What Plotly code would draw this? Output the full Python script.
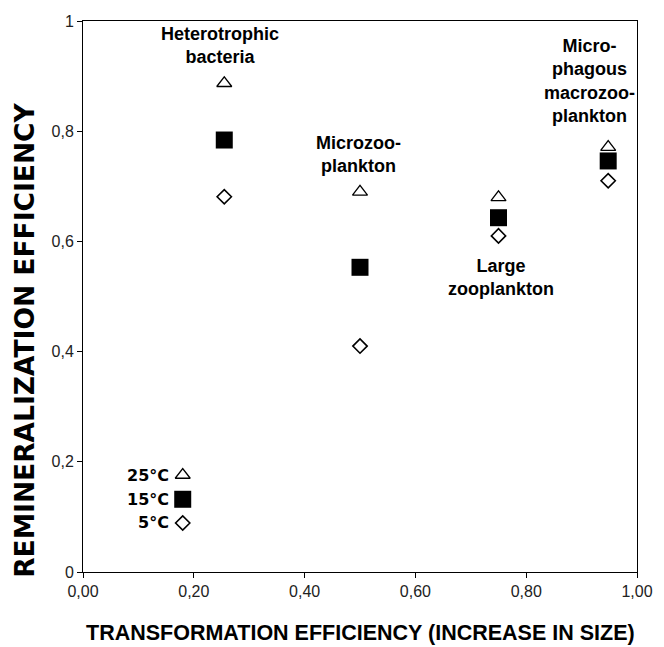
import plotly.graph_objects as go

# Data
groups = ["Heterotrophic<br>bacteria", "Microzoo-<br>plankton", "Large<br>zooplankton",
          "Micro-<br>phagous<br>macrozoo-<br>plankton"]
transformation = [0.255, 0.50, 0.75, 0.948]
remin_25C = [0.887, 0.690, 0.680, 0.771]
remin_15C = [0.784, 0.553, 0.643, 0.746]
remin_5C = [0.681, 0.410, 0.610, 0.710]

label_x = [0.247, 0.497, 0.755, 0.915]
label_y = [0.955, 0.757, 0.535, 0.891]

key_labels = ["25°C", "15°C", "5°C"]
key_x = [0.18, 0.18, 0.18]
key_y = [0.176, 0.132, 0.089]

FONT = "Liberation Sans Narrow, Arial Narrow, Liberation Sans, sans-serif"

fig = go.Figure()
tri = dict(symbol="triangle-up-open", size=13, color="black", line=dict(width=1.3, color="black"))
sq = dict(symbol="square", size=17, color="black", line=dict(width=0))
dia = dict(symbol="diamond-open", size=11, color="black", line=dict(width=1.6, color="black"))

fig.add_trace(go.Scatter(x=transformation, y=remin_25C, mode="markers", marker=tri, name="25°C"))
fig.add_trace(go.Scatter(x=transformation, y=remin_15C, mode="markers", marker=sq, name="15°C"))
fig.add_trace(go.Scatter(x=transformation, y=remin_5C, mode="markers", marker=dia, name="5°C"))

# key markers
for m, xx, yy in zip([tri, sq, dia], key_x, key_y):
    fig.add_trace(go.Scatter(x=[xx], y=[yy], mode="markers", marker=m, showlegend=False, hoverinfo="skip"))

annotations = []
for g, lx, ly in zip(groups, label_x, label_y):
    annotations.append(dict(x=lx, y=ly, xref="x", yref="y", text="<b>" + g + "</b>", showarrow=False,
                            font=dict(family=FONT, size=18, color="black"), align="center"))
for t, xx, yy in zip(key_labels, key_x, key_y):
    annotations.append(dict(x=xx, y=yy, xref="x", yref="y", text="<b>" + t + "</b>", showarrow=False,
                            xanchor="right", xshift=-12,
                            font=dict(family="DejaVu Sans, sans-serif", size=16, color="black")))
# axis titles
annotations.append(dict(x=-0.106, y=0.42, xref="paper", yref="paper", xanchor="center", yanchor="middle",
                        text="<b>REMINERALIZATION EFFICIENCY</b>", textangle=-90, showarrow=False,
                        font=dict(family="DejaVu Sans, sans-serif", size=26.5, color="black")))
annotations.append(dict(x=0.5, y=0, xref="paper", yref="paper", xanchor="center", yanchor="middle",
                        yshift=-61, text="<b>TRANSFORMATION EFFICIENCY (INCREASE IN SIZE)</b>",
                        showarrow=False, font=dict(family=FONT, size=21.5, color="black")))

fig.update_layout(
    width=664, height=647,
    margin=dict(l=83, r=27, t=21, b=75),
    paper_bgcolor="white", plot_bgcolor="white",
    showlegend=False,
    separators=", ",
    annotations=annotations,
    xaxis=dict(range=[0, 1], tickvals=[0, 0.2, 0.4, 0.6, 0.8, 1.0], tickformat=".2f",
               showgrid=False, zeroline=False, showline=True, linecolor="black", linewidth=1,
               mirror=True, ticks="outside", ticklen=5, tickcolor="black", automargin=False,
               tickfont=dict(family=FONT, size=16, color="#222")),
    yaxis=dict(range=[0, 1], tickvals=[0, 0.2, 0.4, 0.6, 0.8, 1.0],
               showgrid=False, zeroline=False, showline=True, linecolor="black", linewidth=1,
               mirror=True, ticks="outside", ticklen=5, tickcolor="black", automargin=False,
               tickfont=dict(family=FONT, size=16, color="#222")),
)

fig.write_html("out.html", config={"displayModeBar": False},
               post_script="document.body.style.margin='0';document.body.style.overflow='hidden';")
